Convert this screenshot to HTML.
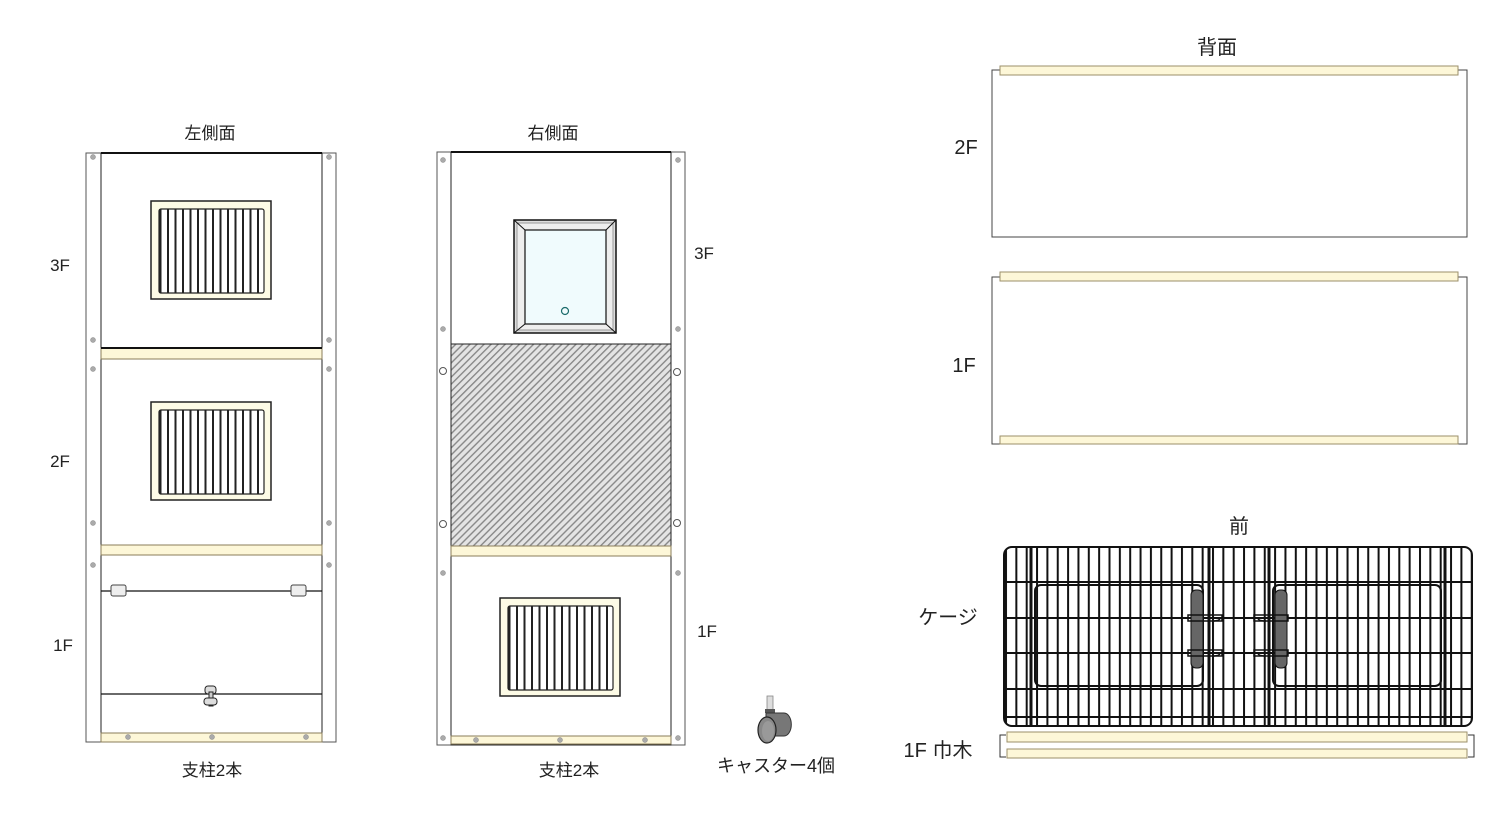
<!DOCTYPE html>
<html><head><meta charset="utf-8"><style>
html,body{margin:0;padding:0;background:#fff;}
svg{display:block;}
text{font-family:"Liberation Sans","Noto Sans CJK JP",sans-serif;fill:#222;}
</style></head><body>
<svg width="1509" height="817" viewBox="0 0 1509 817" xmlns="http://www.w3.org/2000/svg">
<defs>
<pattern id="louv" width="7.5" height="10" patternUnits="userSpaceOnUse" x="1">
<rect width="7.5" height="10" fill="#fff"/><rect x="0" width="2" height="10" fill="#222"/></pattern>
<pattern id="hatch" width="5" height="5" patternUnits="userSpaceOnUse" patternTransform="rotate(45)">
<rect width="5" height="5" fill="#e4e4e4"/><rect width="1.4" height="5" fill="#888"/></pattern>
<pattern id="cagev" width="10.35" height="200" patternUnits="userSpaceOnUse" x="1005">
<rect x="0" width="2" height="200" fill="#111"/></pattern>
<g id="vent">
<rect x="0" y="0" width="120" height="98" fill="#fdfbe6" stroke="#222" stroke-width="1.5"/>
<rect x="8" y="8" width="105" height="84" fill="url(#louv)" stroke="#222" stroke-width="1.2" rx="2"/>
</g>
</defs>

<!-- LEFT SIDE -->
<text x="210" y="139" font-size="17" text-anchor="middle">左側面</text>
<rect x="86" y="153" width="15" height="589" fill="#fff" stroke="#555" stroke-width="1"/>
<rect x="322" y="153" width="14" height="589" fill="#fff" stroke="#555" stroke-width="1"/>
<rect x="101" y="153" width="221" height="589" fill="#fff" stroke="#222" stroke-width="1"/>
<line x1="101" y1="153" x2="322" y2="153" stroke="#111" stroke-width="2"/>
<rect x="101" y="348" width="221" height="11" fill="#fdf7d8" stroke="#8a7d5a" stroke-width="1"/>
<line x1="101" y1="348" x2="322" y2="348" stroke="#111" stroke-width="2"/>
<rect x="101" y="545" width="221" height="10" fill="#fdf7d8" stroke="#8a7d5a" stroke-width="1"/>
<rect x="101" y="733" width="221" height="9" fill="#fdf7d8" stroke="#8a7d5a" stroke-width="1"/>
<use href="#vent" x="151" y="201"/>
<use href="#vent" x="151" y="402"/>
<line x1="101" y1="591" x2="322" y2="591" stroke="#111" stroke-width="1.3"/>
<line x1="101" y1="694" x2="322" y2="694" stroke="#111" stroke-width="1.3"/>
<rect x="111" y="585" width="15" height="11" rx="2" fill="#eee" stroke="#444"/>
<rect x="291" y="585" width="15" height="11" rx="2" fill="#eee" stroke="#444"/>
<rect x="205" y="686" width="11" height="8" rx="3" fill="#ddd" stroke="#222"/>
<rect x="209" y="692" width="4" height="14" fill="#ccc" stroke="#222"/>
<rect x="204" y="698" width="13" height="7" rx="3" fill="#ddd" stroke="#222"/>
<g fill="#aaa" stroke="#888" stroke-width="0.5">
<circle cx="93" cy="157" r="2.5"/><circle cx="93" cy="340" r="2.5"/><circle cx="93" cy="369" r="2.5"/><circle cx="93" cy="523" r="2.5"/><circle cx="93" cy="565" r="2.5"/>
<circle cx="329" cy="157" r="2.5"/><circle cx="329" cy="340" r="2.5"/><circle cx="329" cy="369" r="2.5"/><circle cx="329" cy="523" r="2.5"/><circle cx="329" cy="565" r="2.5"/>
<circle cx="128" cy="737" r="2.5"/><circle cx="212" cy="737" r="2.5"/><circle cx="306" cy="737" r="2.5"/>
</g>
<text x="60" y="271" font-size="17" text-anchor="middle">3F</text>
<text x="60" y="467" font-size="17" text-anchor="middle">2F</text>
<text x="63" y="651" font-size="17" text-anchor="middle">1F</text>
<text x="212" y="776" font-size="17" text-anchor="middle">支柱2本</text>

<!-- RIGHT SIDE -->
<text x="553" y="139" font-size="17" text-anchor="middle">右側面</text>
<rect x="437" y="152" width="14" height="593" fill="#fff" stroke="#555"/>
<rect x="671" y="152" width="14" height="593" fill="#fff" stroke="#555"/>
<rect x="451" y="152" width="220" height="593" fill="#fff" stroke="#222"/>
<line x1="451" y1="152" x2="671" y2="152" stroke="#111" stroke-width="2"/>
<rect x="451" y="344" width="220" height="202" fill="url(#hatch)" stroke="#222"/>
<rect x="451" y="546" width="220" height="10" fill="#fdf7d8" stroke="#8a7d5a"/>
<rect x="451" y="736" width="220" height="8" fill="#fdf7d8" stroke="#8a7d5a"/>
<rect x="514" y="220" width="102" height="113" fill="#ddd" stroke="#111" stroke-width="1.5"/>
<rect x="517" y="223" width="96" height="107" fill="#eee" stroke="#999"/>
<rect x="525" y="230" width="81" height="94" fill="#f0fbfd" stroke="#111" stroke-width="1.2"/>
<line x1="514" y1="220" x2="525" y2="230" stroke="#111"/><line x1="616" y1="220" x2="606" y2="230" stroke="#111"/>
<line x1="514" y1="333" x2="525" y2="324" stroke="#111"/><line x1="616" y1="333" x2="606" y2="324" stroke="#111"/>
<circle cx="565" cy="311" r="3.5" fill="none" stroke="#1b6b6b" stroke-width="1.2"/>
<use href="#vent" x="500" y="598"/>
<g fill="#aaa" stroke="#888" stroke-width="0.5">
<circle cx="443" cy="160" r="2.5"/><circle cx="443" cy="329" r="2.5"/><circle cx="443" cy="573" r="2.5"/><circle cx="443" cy="738" r="2.5"/>
<circle cx="678" cy="160" r="2.5"/><circle cx="678" cy="329" r="2.5"/><circle cx="678" cy="573" r="2.5"/><circle cx="678" cy="738" r="2.5"/>
<circle cx="476" cy="740" r="2.5"/><circle cx="560" cy="740" r="2.5"/><circle cx="645" cy="740" r="2.5"/>
</g>
<g fill="#fff" stroke="#555" stroke-width="1">
<circle cx="443" cy="371" r="3.5"/><circle cx="443" cy="524" r="3.5"/><circle cx="677" cy="372" r="3.5"/><circle cx="677" cy="523" r="3.5"/>
</g>
<text x="704" y="259" font-size="17" text-anchor="middle">3F</text>
<text x="707" y="637" font-size="17" text-anchor="middle">1F</text>
<text x="569" y="776" font-size="17" text-anchor="middle">支柱2本</text>

<!-- CASTER -->
<rect x="767" y="696" width="6" height="14" fill="#ddd" stroke="#888" stroke-width="0.8"/>
<rect x="765" y="709" width="10" height="4" fill="#555"/>
<path d="M766 713 h18 a7 11 0 0 1 0 23 h-18 z" fill="#777" stroke="#333"/>
<ellipse cx="767" cy="730" rx="9" ry="13" fill="#888" stroke="#222" stroke-width="1.2"/>
<ellipse cx="768" cy="731" rx="6" ry="10" fill="#999"/>
<text x="776" y="772" font-size="18" text-anchor="middle">キャスター4個</text>

<!-- BACK -->
<text x="1217" y="54" font-size="20" text-anchor="middle">背面</text>
<rect x="992" y="70" width="475" height="167" fill="#fff" stroke="#444"/>
<rect x="1000" y="66" width="458" height="9" fill="#fdf7d8" stroke="#9b8f6a"/>
<text x="966" y="154" font-size="20" text-anchor="middle">2F</text>
<rect x="992" y="277" width="475" height="167" fill="#fff" stroke="#444"/>
<rect x="1000" y="272" width="458" height="9" fill="#fdf7d8" stroke="#9b8f6a"/>
<rect x="1000" y="436" width="458" height="8" fill="#fdf7d8" stroke="#9b8f6a"/>
<text x="964" y="372" font-size="20" text-anchor="middle">1F</text>

<!-- FRONT CAGE -->
<text x="1239" y="533" font-size="20" text-anchor="middle">前</text>
<rect x="1004" y="547" width="468" height="179" rx="8" fill="url(#cagev)" stroke="#111" stroke-width="2"/>
<g stroke="#111" stroke-width="2">
<line x1="1004" y1="582" x2="1472" y2="582"/><line x1="1004" y1="618" x2="1472" y2="618"/>
<line x1="1004" y1="653" x2="1472" y2="653"/><line x1="1004" y1="689" x2="1472" y2="689"/>
<line x1="1004" y1="717" x2="1472" y2="717"/>
</g>
<g stroke="#111" stroke-width="3">
<line x1="1031" y1="547" x2="1031" y2="726"/><line x1="1209" y1="547" x2="1209" y2="726"/>
<line x1="1269" y1="547" x2="1269" y2="726"/><line x1="1445" y1="547" x2="1445" y2="726"/>
</g>
<rect x="1035" y="585" width="168" height="101" rx="6" fill="none" stroke="#111" stroke-width="2"/>
<rect x="1273" y="585" width="168" height="101" rx="6" fill="none" stroke="#111" stroke-width="2"/>
<rect x="1191" y="590" width="12" height="78" rx="5" fill="#666" stroke="#111"/>
<rect x="1275" y="590" width="12" height="78" rx="5" fill="#666" stroke="#111"/>
<g stroke="#111" stroke-width="1.5" fill="none">
<rect x="1188" y="615" width="34" height="6"/><rect x="1188" y="650" width="34" height="6"/>
<rect x="1254" y="615" width="34" height="6"/><rect x="1254" y="650" width="34" height="6"/>
<path d="M1212 621 q8 0 8 -3 M1266 621 q-8 0 -8 -3 M1212 656 q8 0 8 -3 M1266 656 q-8 0 -8 -3"/>
</g>
<text x="948" y="624" font-size="20" text-anchor="middle">ケージ</text>
<path d="M1006 735 h-6 v22 h6 M1468 735 h6 v22 h-6" fill="none" stroke="#333"/>
<rect x="1007" y="732" width="460" height="10" fill="#fdf7d8" stroke="#9b8f6a"/>
<rect x="1007" y="749" width="460" height="9" fill="#fdf7d8" stroke="#9b8f6a"/>
<text x="938" y="757" font-size="20" text-anchor="middle">1F 巾木</text>
</svg>
</body></html>
